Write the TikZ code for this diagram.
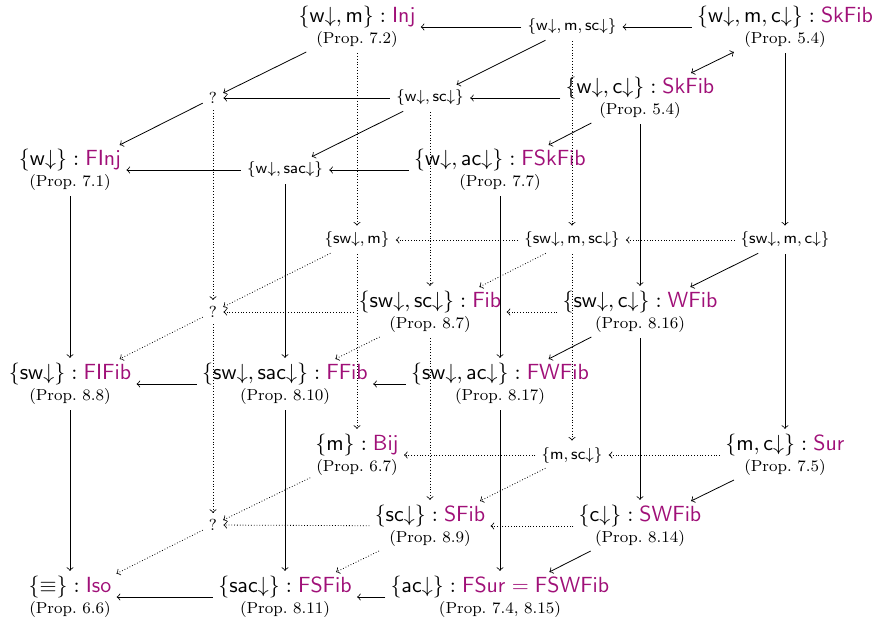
\documentclass[tikz,border=0pt]{standalone}
\usepackage{xcolor}
\definecolor{nm}{RGB}{160,16,120}
\newcommand{\dn}{{\downarrow}}
\newcommand{\sfm}[1]{\mathsf{#1}}
\newcommand{\bl}[3]{$\{#1\}:\textcolor{nm}{\mathsf{#2}}$\\[-2.5pt]{\footnotesize(Prop.~#3)}}
\newcommand{\smn}[1]{$\{#1\}$}
\tikzset{
  big/.style={align=center, inner sep=1.5pt, font=\fontsize{10.9}{13}\selectfont},
  sm/.style={inner sep=2pt, font=\footnotesize},
  qm/.style={inner sep=2pt, font=\footnotesize},
  arr/.style={->, shorten >=1pt, shorten <=1pt},
  dbl/.style={<->, shorten >=1pt, shorten <=1pt},
  hid/.style={->, densely dotted, shorten >=1pt, shorten <=1pt}
}
\begin{document}
\begin{tikzpicture}[x=0.5pt,y=-0.5pt]
\useasboundingbox (0,0) rectangle (873,625);
% layer 0
\node[big] (a0) at (785,27) {\bl{\sfm{w}\dn,\sfm{m},\sfm{c}\dn}{SkFib}{5.4}};
\node[sm]  (b0) at (572,27) {\smn{\sfm{w}\dn,\sfm{m},\sfm{sc}\dn}};
\node[big] (c0) at (357,27) {\bl{\sfm{w}\dn,\sfm{m}}{Inj}{7.2}};
\node[big] (d0) at (640,98) {\bl{\sfm{w}\dn,\sfm{c}\dn}{SkFib}{5.4}};
\node[sm]  (e0) at (430,98) {\smn{\sfm{w}\dn,\sfm{sc}\dn}};
\node[qm]  (f0) at (213,98) {?};
\node[big] (g0) at (500,170) {\bl{\sfm{w}\dn,\sfm{ac}\dn}{FSkFib}{7.7}};
\node[sm]  (h0) at (285,170) {\smn{\sfm{w}\dn,\sfm{sac}\dn}};
\node[big] (i0) at (70,170) {\bl{\sfm{w}\dn}{FInj}{7.1}};
% layer 1
\node[sm]  (a1) at (785,240) {\smn{\sfm{sw}\dn,\sfm{m},\sfm{c}\dn}};
\node[sm]  (b1) at (572,240) {\smn{\sfm{sw}\dn,\sfm{m},\sfm{sc}\dn}};
\node[sm]  (c1) at (357,240) {\smn{\sfm{sw}\dn,\sfm{m}}};
\node[big] (d1) at (640,312) {\bl{\sfm{sw}\dn,\sfm{c}\dn}{WFib}{8.16}};
\node[big] (e1) at (430,312) {\bl{\sfm{sw}\dn,\sfm{sc}\dn}{Fib}{8.7}};
\node[qm]  (f1) at (213,312) {?};
\node[big] (g1) at (500,384) {\bl{\sfm{sw}\dn,\sfm{ac}\dn}{FWFib}{8.17}};
\node[big] (h1) at (285,384) {\bl{\sfm{sw}\dn,\sfm{sac}\dn}{FFib}{8.10}};
\node[big] (i1) at (70,384) {\bl{\sfm{sw}\dn}{FIFib}{8.8}};
% layer 2
\node[big] (a2) at (785,455) {\bl{\sfm{m},\sfm{c}\dn}{Sur}{7.5}};
\node[sm]  (b2) at (572,455) {\smn{\sfm{m},\sfm{sc}\dn}};
\node[big] (c2) at (357,455) {\bl{\sfm{m}}{Bij}{6.7}};
\node[big] (d2) at (640,526) {\bl{\sfm{c}\dn}{SWFib}{8.14}};
\node[big] (e2) at (430,526) {\bl{\sfm{sc}\dn}{SFib}{8.9}};
\node[qm]  (f2) at (213,525) {?};
\node[big] (g2) at (500,597) {\bl{\sfm{ac}\dn}{FSur=FSWFib}{7.4, 8.15}};
\node[big] (h2) at (285,597) {\bl{\sfm{sac}\dn}{FSFib}{8.11}};
\node[big] (i2) at (70,597) {\bl{\equiv}{Iso}{6.6}};
% edges layer 0
\draw[arr] (a0) -- (b0);
\draw[arr] (b0) -- (c0);
\draw[dbl] (a0) -- (d0);
\draw[arr] (b0) -- (e0);
\draw[arr] (c0) -- (f0);
\draw[arr] (d0) -- (e0);
\draw[arr] (e0) -- (f0);
\draw[arr] (d0) -- (g0);
\draw[arr] (e0) -- (h0);
\draw[arr] (f0) -- (i0);
\draw[arr] (g0) -- (h0);
\draw[arr] (h0) -- (i0);
% vertical 0-1
\draw[arr] (a0) -- (a1);
\draw[hid] (b0) -- (b1);
\draw[hid] (c0) -- (c1);
\draw[arr] (d0) -- (d1);
\draw[hid] (e0) -- (e1);
\draw[hid] (f0) -- (f1);
\draw[arr] (g0) -- (g1);
\draw[arr] (h0) -- (h1);
\draw[arr] (i0) -- (i1);
% layer 1
\draw[hid] (a1) -- (b1);
\draw[hid] (b1) -- (c1);
\draw[arr] (a1) -- (d1);
\draw[hid] (b1) -- (e1);
\draw[hid] (c1) -- (f1);
\draw[hid] (d1) -- (e1);
\draw[hid] (e1) -- (f1);
\draw[arr] (d1) -- (g1);
\draw[hid] (e1) -- (h1);
\draw[hid] (f1) -- (i1);
\draw[arr] (g1) -- (h1);
\draw[arr] (h1) -- (i1);
% vertical 1-2
\draw[arr] (a1) -- (a2);
\draw[hid] (b1) -- (b2);
\draw[hid] (c1) -- (c2);
\draw[arr] (d1) -- (d2);
\draw[hid] (e1) -- (e2);
\draw[hid] (f1) -- (f2);
\draw[arr] (g1) -- (g2);
\draw[arr] (h1) -- (h2);
\draw[arr] (i1) -- (i2);
% layer 2
\draw[hid] (a2) -- (b2);
\draw[hid] (b2) -- (c2);
\draw[arr] (a2) -- (d2);
\draw[hid] (b2) -- (e2);
\draw[hid] (c2) -- (f2);
\draw[hid] (d2) -- (e2);
\draw[hid] (e2) -- (f2);
\draw[arr] (d2) -- (g2);
\draw[hid] (e2) -- (h2);
\draw[hid] (f2) -- (i2);
\draw[arr] (g2) -- (h2);
\draw[arr] (h2) -- (i2);
\end{tikzpicture}
\end{document}
